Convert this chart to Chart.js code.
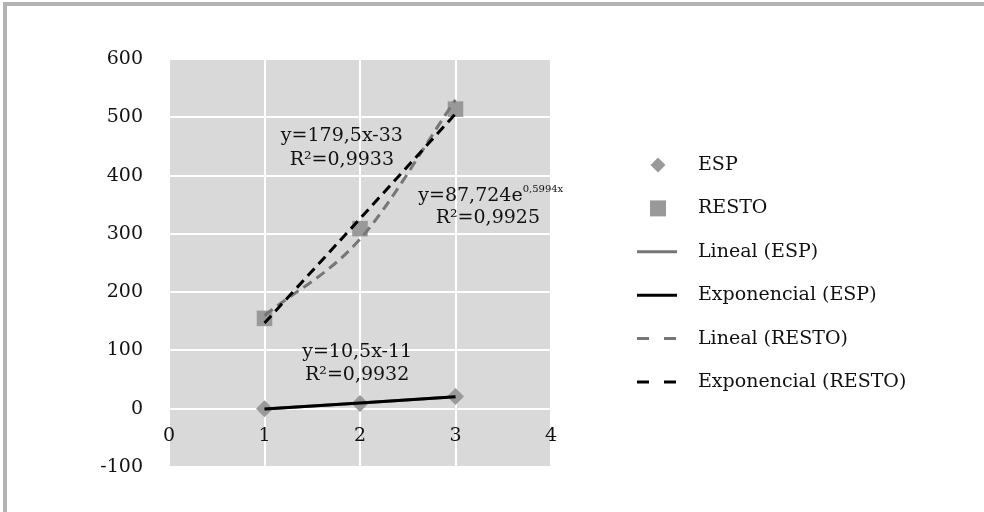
<!DOCTYPE html>
<html>
<head>
<meta charset="utf-8">
<script src="https://cdn.jsdelivr.net/npm/chart.js@4.4.0/dist/chart.umd.min.js"></script>
<style>
  html, body { margin: 0; padding: 0; background: #fff; overflow: hidden; }
  #frame { position: absolute; left: 3px; top: 2px; width: 2000px; height: 2000px;
           border-left: 4px solid #b3b3b3; border-top: 4px solid #b3b3b3; }
  #wrap { position: absolute; left: 0; top: 0; width: 984px; height: 512px; }
</style>
</head>
<body>
<div id="frame"></div>
<div id="wrap"><canvas id="trendChart"></canvas></div>
<script>
// measured points
const xValues = [1, 2, 3];
const espValues = [0, 9, 21];
const restoValues = [155, 309, 514];
// trend lines at x = 1, 2, 3
const linEspValues = [-0.5, 10, 20.5];
const expEspValues = [-0.5, 10, 20.5];
const linRestoValues = [147, 326, 506];
const expRestoValues = [160, 291, 530];
// axes
const xTicks = [0, 1, 2, 3, 4];
const yTicks = [-100, 0, 100, 200, 300, 400, 500, 600];
const seriesNames = ['ESP', 'RESTO', 'Lineal (ESP)', 'Exponencial (ESP)', 'Lineal (RESTO)', 'Exponencial (RESTO)'];
// equation labels (text and where they sit, in axis units)
const eqTexts = ['y=179,5x-33', 'R²=0,9933', 'y=87,724e', 'R²=0,9925', 'y=10,5x-11', 'R²=0,9932'];
const eqSup = ['', '', '0,5994x', '', '', ''];
const eqAt = [[1.81, 459], [1.81, 418], [2.61, 356], [3.885, 319], [1.97, 88], [1.97, 49]];
const eqAlign = ['center', 'center', 'left', 'right', 'center', 'center'];

const FONT = '"DejaVu Serif", serif';
const TEXT = '#111111';
const MARKER = '#999999';
const DARK_GREY = '#767676';

const pts = vals => xValues.map((x, i) => ({ x: x, y: vals[i] }));

const plotBg = {
  id: 'plotBg',
  beforeDraw(chart) {
    const a = chart.chartArea, ctx = chart.ctx;
    ctx.save();
    ctx.fillStyle = '#d9d9d9';
    ctx.fillRect(a.left, a.top, a.right - a.left, a.bottom - a.top);
    ctx.restore();
  }
};

const eqLabels = {
  id: 'eqLabels',
  afterDatasetsDraw(chart) {
    const ctx = chart.ctx, xs = chart.scales.x, ys = chart.scales.y;
    ctx.save();
    ctx.fillStyle = TEXT;
    ctx.textBaseline = 'alphabetic';
    eqTexts.forEach((t, i) => {
      ctx.font = '19px ' + FONT;
      const w1 = ctx.measureText(t).width;
      ctx.font = '10px ' + FONT;
      const w2 = eqSup[i] ? ctx.measureText(eqSup[i]).width : 0;
      const px = xs.getPixelForValue(eqAt[i][0]);
      const py = ys.getPixelForValue(eqAt[i][1]);
      let x0 = px;
      if (eqAlign[i] === 'center') x0 = px - (w1 + w2) / 2;
      if (eqAlign[i] === 'right') x0 = px - (w1 + w2);
      ctx.textAlign = 'left';
      ctx.font = '19px ' + FONT;
      ctx.fillText(t, x0, py);
      if (eqSup[i]) {
        ctx.font = '10px ' + FONT;
        ctx.fillText(eqSup[i], x0 + w1, py - 9);
      }
    });
    ctx.restore();
  }
};

// legend drawn by hand so it can sit where the original one is
const legendStyles = [
  { kind: 'diamond' },
  { kind: 'square' },
  { kind: 'line', color: DARK_GREY, dash: [] },
  { kind: 'line', color: '#000', dash: [] },
  { kind: 'line', color: DARK_GREY, dash: [12, 15] },
  { kind: 'line', color: '#000', dash: [12, 15] }
];
const sideLegend = {
  id: 'sideLegend',
  afterDraw(chart) {
    const ctx = chart.ctx;
    const mx = 658, tx = 698, y0 = 165, step = 43.4;
    ctx.save();
    seriesNames.forEach((name, i) => {
      const y = y0 + i * step, s = legendStyles[i];
      if (s.kind === 'diamond') {
        ctx.fillStyle = MARKER;
        ctx.beginPath();
        ctx.moveTo(mx, y - 7.5); ctx.lineTo(mx + 7.5, y);
        ctx.lineTo(mx, y + 7.5); ctx.lineTo(mx - 7.5, y);
        ctx.closePath(); ctx.fill();
      } else if (s.kind === 'square') {
        ctx.fillStyle = MARKER;
        ctx.fillRect(mx - 8, y - 8, 16, 16);
      } else {
        ctx.strokeStyle = s.color;
        ctx.lineWidth = 3;
        ctx.setLineDash(s.dash);
        ctx.beginPath();
        ctx.moveTo(mx - 21, y); ctx.lineTo(mx + 19, y);
        ctx.stroke();
        ctx.setLineDash([]);
      }
      ctx.fillStyle = TEXT;
      ctx.font = '19px ' + FONT;
      ctx.textAlign = 'left';
      ctx.textBaseline = 'middle';
      ctx.fillText(name, tx, y);
    });
    ctx.restore();
  }
};

Chart.defaults.font.family = FONT;
Chart.defaults.font.size = 19;
Chart.defaults.color = TEXT;

new Chart(document.getElementById('trendChart'), {
  type: 'scatter',
  data: {
    datasets: [
      { label: seriesNames[0], data: pts(espValues), order: 2,
        pointStyle: 'rectRot', pointRadius: 8.5, backgroundColor: MARKER, borderWidth: 0 },
      { label: seriesNames[1], data: pts(restoValues), order: 2,
        pointStyle: 'rect', pointRadius: 11, backgroundColor: MARKER, borderWidth: 0 },
      { label: seriesNames[2], data: pts(linEspValues), order: 1, showLine: true,
        pointRadius: 0, borderColor: DARK_GREY, borderWidth: 3 },
      { label: seriesNames[3], data: pts(expEspValues), order: 0, showLine: true,
        pointRadius: 0, borderColor: '#000', borderWidth: 3 },
      // in the picture the straight dashed line is black and the curved one grey
      { label: seriesNames[4], data: pts(linRestoValues), order: 0, showLine: true,
        pointRadius: 0, borderColor: '#000', borderWidth: 3, borderDash: [10, 6] },
      { label: seriesNames[5], data: pts(expRestoValues), order: 1, showLine: true,
        pointRadius: 0, borderColor: DARK_GREY, borderWidth: 3, borderDash: [10, 6],
        cubicInterpolationMode: 'monotone' }
    ]
  },
  options: {
    responsive: true,
    maintainAspectRatio: false,
    animation: false,
    devicePixelRatio: 1,
    layout: { padding: { top: 59, bottom: 45, left: 0, right: 433 } },
    plugins: { legend: { display: false }, tooltip: { enabled: false } },
    scales: {
      x: {
        type: 'linear',
        position: { y: 0 },
        min: xTicks[0], max: xTicks[xTicks.length - 1],
        afterBuildTicks: s => { s.ticks = xTicks.map(v => ({ value: v })); },
        ticks: { padding: 16 },
        grid: { color: '#ffffff', lineWidth: 2, drawTicks: false },
        border: { display: false }
      },
      y: {
        type: 'linear',
        position: 'left',
        min: yTicks[0], max: yTicks[yTicks.length - 1],
        afterBuildTicks: s => { s.ticks = yTicks.map(v => ({ value: v })); },
        afterFit: s => { s.width = 169; },
        ticks: { padding: 26 },
        grid: { color: '#ffffff', lineWidth: 2, drawTicks: false },
        border: { display: false }
      }
    }
  },
  plugins: [plotBg, eqLabels, sideLegend]
});
</script>
</body>
</html>
